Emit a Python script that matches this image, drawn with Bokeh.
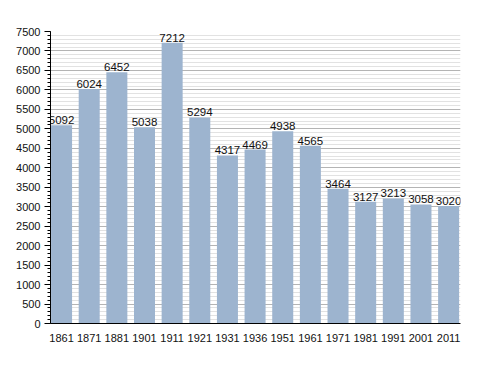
from bokeh.plotting import figure
from bokeh.models import ColumnDataSource, Range1d, FixedTicker, SingleIntervalTicker, LabelSet
from bokeh.core.properties import value
from bokeh.embed import file_html
from bokeh.resources import INLINE

years = ["1861", "1871", "1881", "1901", "1911", "1921", "1931", "1936",
         "1951", "1961", "1971", "1981", "1991", "2001", "2011"]
population = [5092, 6024, 6452, 5038, 7212, 5294, 4317, 4469,
              4938, 4565, 3464, 3127, 3213, 3058, 3020]

idx = list(range(len(years)))
src = ColumnDataSource(dict(x=idx, top=population, label=[str(v) for v in population]))

bw = 0.76
p = figure(width=478, height=365, output_backend="svg", toolbar_location=None,
           x_range=Range1d(-bw / 2 - 0.02, len(years) - 1 + bw / 2 + 0.05), y_range=Range1d(0, 7500),
           min_border_left=50, min_border_right=18, min_border_top=31, min_border_bottom=42)
p.outline_line_color = None
p.background_fill_color = "white"

p.vbar(x="x", top="top", width=bw, bottom=0, source=src,
       fill_color="#9db4cf", line_color=None)

labels = LabelSet(x="x", y="top", text="label", source=src, text_align="center",
                  text_baseline="bottom", y_offset=1, text_font=value("Liberation Sans"),
                  text_font_size=value("11.5px"), text_color=value("#111111"))
p.add_layout(labels)

# y axis
p.yaxis.ticker = SingleIntervalTicker(interval=500, num_minor_ticks=5)
p.yaxis.major_tick_in = 0
p.yaxis.major_tick_out = 6
p.yaxis.minor_tick_in = 0
p.yaxis.minor_tick_out = 3
p.yaxis.axis_line_color = "black"
p.yaxis.major_tick_line_color = "black"
p.yaxis.minor_tick_line_color = "black"
p.yaxis.major_label_text_font = "Liberation Sans"
p.yaxis.major_label_text_font_size = "11px"
p.yaxis.major_label_text_color = "#111111"
p.yaxis.major_label_standoff = 4

# x axis
p.xaxis.ticker = FixedTicker(ticks=idx)
p.xaxis.major_label_overrides = {i: y for i, y in enumerate(years)}
p.xaxis.major_tick_line_color = None
p.xaxis.minor_tick_line_color = None
p.xaxis.axis_line_color = "black"
p.xaxis.major_label_text_font = "Liberation Sans"
p.xaxis.major_label_text_font_size = "11px"
p.xaxis.major_label_text_color = "#111111"
p.xaxis.major_label_standoff = 4

p.xgrid.grid_line_color = None
p.ygrid.grid_line_color = "#b4b4b4"
p.ygrid.minor_grid_line_color = "#e2e2e2"
p.ygrid.level = "underlay"

open("out.html", "w").write(file_html(p, INLINE))
